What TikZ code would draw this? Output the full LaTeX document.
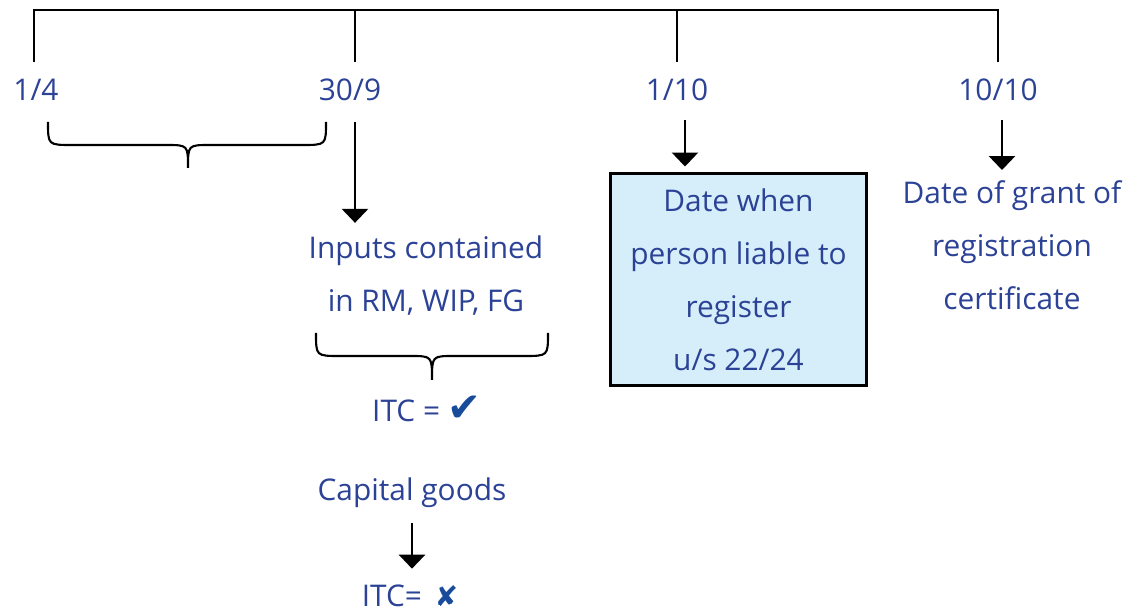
\documentclass[tikz,border=0pt]{standalone}
\usepackage{fontspec}
\setmainfont{Open Sans}
\newfontfamily\markfont{DejaVu Sans}
\usepackage{xcolor}
\usetikzlibrary{arrows.meta,positioning}

\definecolor{txtblue}{RGB}{43,66,150}
\definecolor{markblue}{RGB}{25,75,155}
\definecolor{boxblue}{RGB}{214,238,250}

\begin{document}
\begin{tikzpicture}[
    x=0.02cm, y=-0.02cm,
    label/.style={
      text=txtblue,
      align=center,
      inner sep=0pt,
      font=\fontsize{17}{30.2}\selectfont
    },
    regbox/.style={
      label,
      draw=black,
      line width=1.7pt,
      fill=boxblue,
      minimum width=5.14cm,
      minimum height=4.26cm
    },
    rule/.style={line width=1.6pt},
    brace/.style={line width=1.2pt},
    flow/.style={-{Triangle[width=5.2mm,length=2.8mm]},line width=1.6pt,shorten >=0.26cm}
  ]
    \useasboundingbox (0,0) rectangle (1143,614);

    % dates on the time line
    \node[label] (d14) at (36,90) {1/4};
    \node[label] (d309) at (350,90) {30/9};
    \node[label] (d110) at (677,90) {1/10};
    \node[label] (d1010) at (998,90) {10/10};

    \coordinate (t1) at (34,10);
    \coordinate (t2) at (355,10);
    \coordinate (t3) at (677,10);
    \coordinate (t4) at (998,10);
    \coordinate (b1) at (34,62);
    \coordinate (b2) at (355,62);
    \coordinate (b3) at (677,62);
    \coordinate (b4) at (998,62);
    \draw[rule] (b1) -- (t1) -- (t4) -- (b4);
    \draw[rule] (t2) -- (b2);
    \draw[rule] (t3) -- (b3);

    % texts below
    \node[label] (inputs) at (426,276) {Inputs contained\\in RM, WIP, FG};
    \node[label] (itcyes) at (427,409) {ITC = {\markfont\color{markblue}\fontsize{23}{23}\selectfont ✔}};
    \node[label] (capital) at (412,493) {Capital goods};
    \node[label] (itcno) at (410,596) {ITC= \,{\markfont\color{markblue}\fontsize{16}{16}\selectfont ✘}};
    \node[regbox] (liable) at (738.5,279.5) {Date when\\person liable to\\register\\u/s 22/24};
    \node[label] (grant) at (1012,245) {Date of grant of\\registration\\certificate};

    % braces
    \draw[brace] (48,122) .. controls (48,145) .. (72,145) -- (166,145)
      .. controls (188,145) .. (188,168) .. controls (188,145) .. (210,145)
      -- (302,145) .. controls (326,145) .. (326,122);
    \draw[brace] (316,333) .. controls (316,356) .. (340,356) -- (410,356)
      .. controls (432,356) .. (432,380) .. controls (432,356) .. (454,356)
      -- (524,356) .. controls (548,356) .. (548,333);

    % arrows
    \coordinate (a1) at (355,122);
    \coordinate (a2) at (685,120);
    \coordinate (a3) at (1002,120);
    \coordinate (a4) at (412,523);
    \draw[flow] (a1) -- (a1 |- inputs.north);
    \draw[flow,shorten >=0.1cm] (a2) -- (a2 |- liable.north);
    \draw[flow,shorten >=0.2cm] (a3) -- (a3 |- grant.north);
    \draw[flow,shorten >=0.32cm] (a4) -- (a4 |- itcno.north);
  \end{tikzpicture}
\end{document}
